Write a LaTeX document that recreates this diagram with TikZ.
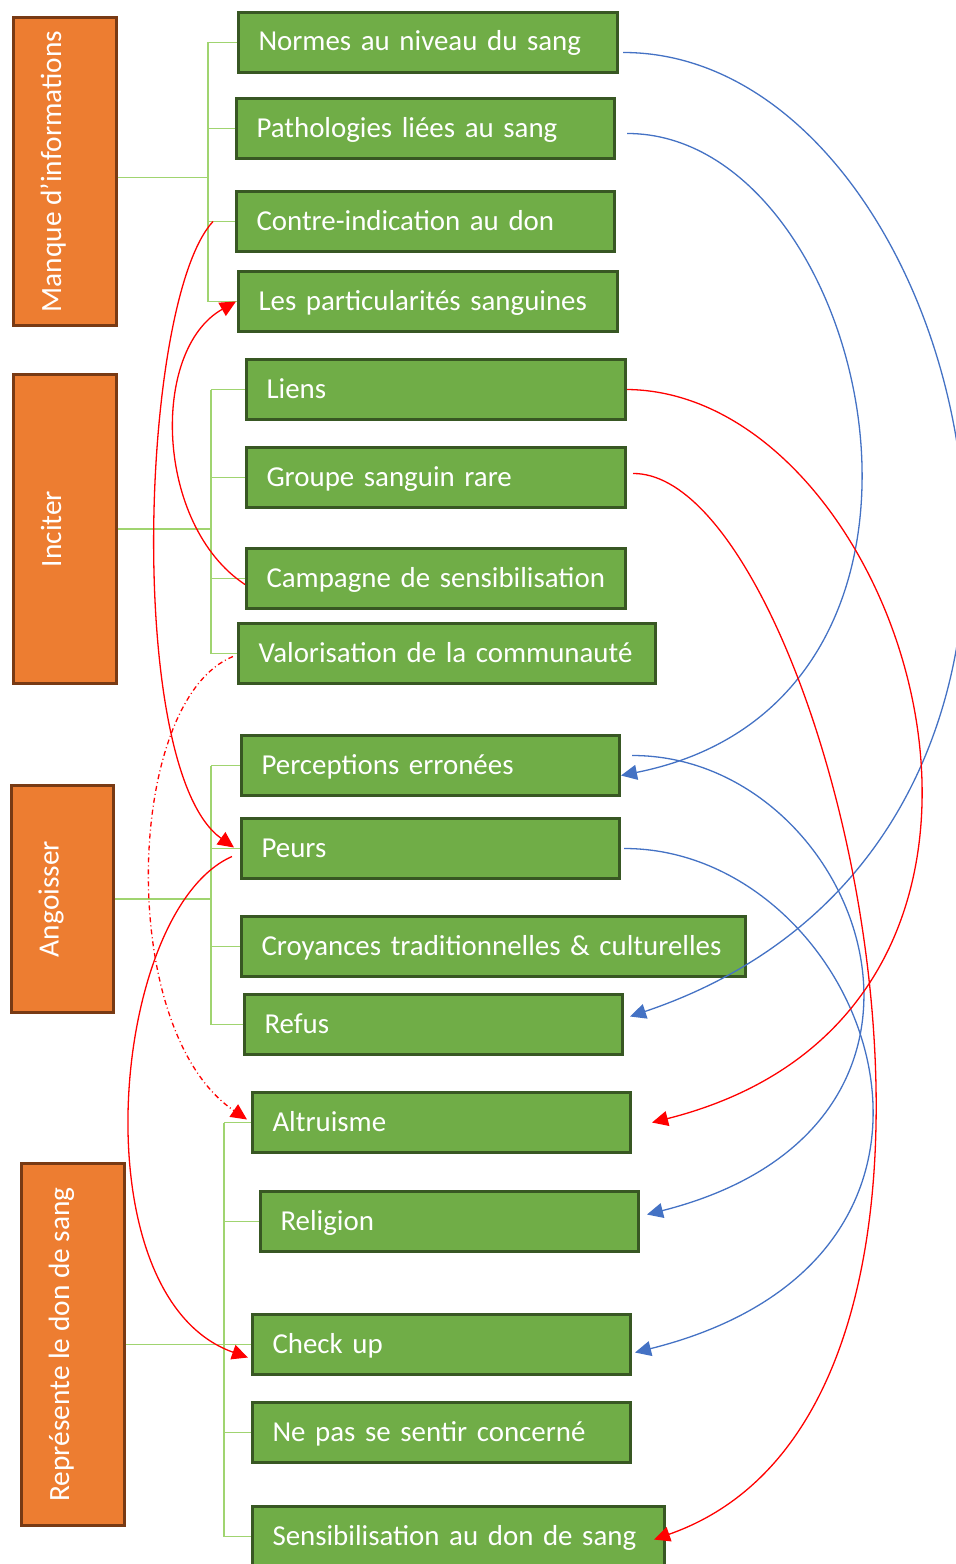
\documentclass[tikz,border=0pt]{standalone}
\usepackage{fontspec}
\setmainfont{Carlito}
\usetikzlibrary{arrows.meta}
\definecolor{leafgreen}{RGB}{112,173,71}
\definecolor{leafborder}{RGB}{56,87,35}
\definecolor{rootorange}{RGB}{237,125,49}
\definecolor{rootborder}{RGB}{120,58,20}
\definecolor{treegreen}{RGB}{160,212,112}
\definecolor{linkblue}{RGB}{68,114,196}
\definecolor{linkred}{RGB}{255,0,0}
\tikzset{
  rootbox/.style={rectangle, draw=rootborder, fill=rootorange, line width=2.5bp, text=white, font=\fontsize{29.5}{35}\selectfont, rotate=90, minimum height=103bp, text height=20bp, text depth=28bp},
  leafbox/.style={rectangle, draw=leafborder, fill=leafgreen, line width=3bp, text=white, font=\fontsize{29}{35}\selectfont, anchor=north west, minimum height=60bp, inner xsep=20bp, text width=#1, align=left, text height=23bp, text depth=6bp},
  leafbox/.default=338bp,
  treeline/.style={treegreen, line width=1.5bp},
  bluelink/.style={linkblue, line width=1.3bp, -{Triangle[length=16bp,width=15bp]}},
  redlink/.style={linkred, line width=1.3bp, -{Triangle[length=16bp,width=15bp]}},
}
\begin{document}
\begin{tikzpicture}[x=1bp, y=-1bp]
\useasboundingbox (0,0) rectangle (955,1564);

% themes
\node[rootbox, minimum width=308bp] (manque) at (65,171.5) {Manque d’informations};
\node[rootbox, minimum width=309bp] (inciter) at (65,529) {Inciter};
\node[rootbox, minimum width=227bp, minimum height=102bp] (angoisser) at (62.5,899) {Angoisser};
\node[rootbox, minimum width=362bp] (represente) at (73,1344.5) {Représente le don de sang};

% sub-themes
\node[leafbox=339bp] (normes) at (237,11) {Normes au niveau du sang};
\node[leafbox] (patho) at (235,97) {Pathologies liées au sang};
\node[leafbox] (contre) at (235,190) {Contre-indication au don};
\node[leafbox=339bp] (partic) at (237,270) {Les particularités sanguines};
\node[leafbox=339bp] (liens) at (245,358) {Liens};
\node[leafbox=339bp] (groupe) at (245,446) {Groupe sanguin rare};
\node[leafbox=339bp] (campagne) at (245,547) {Campagne de sensibilisation};
\node[leafbox=377bp] (valor) at (237,622) {Valorisation de la communauté};
\node[leafbox] (percep) at (240,734) {Perceptions erronées};
\node[leafbox] (peurs) at (240,817) {Peurs};
\node[leafbox=464bp] (croy) at (240,915) {Croyances traditionnelles \& culturelles};
\node[leafbox] (refus) at (243,993) {Refus};
\node[leafbox] (altru) at (251,1091) {Altruisme};
\node[leafbox] (relig) at (259,1190) {Religion};
\node[leafbox] (check) at (251,1313) {Check up};
\node[leafbox] (nepas) at (251,1401) {Ne pas se sentir concerné};
\node[leafbox=372bp] (sensib) at (251,1505) {Sensibilisation au don de sang};

% tree lines
\coordinate (s1) at (208,0);
\coordinate (s2) at (211,0);
\coordinate (s3) at (211,0);
\coordinate (s4) at (224,0);
\draw[treeline] ([yshift=-6bp]manque.south) coordinate (m1) -- (s1 |- m1);
\draw[treeline] (s1 |- normes.west) -- (s1 |- partic.west);
\foreach \n in {normes,patho,contre,partic}
  \draw[treeline] (s1 |- \n.west) -- (\n.west);
\draw[treeline] (inciter.south) -- (s2 |- inciter.south);
\draw[treeline] (s2 |- liens.west) -- (s2 |- valor.west);
\foreach \n in {liens,groupe,campagne,valor}
  \draw[treeline] (s2 |- \n.west) -- (\n.west);
\draw[treeline] (angoisser.south) -- (s3 |- angoisser.south);
\draw[treeline] (s3 |- percep.west) -- (s3 |- refus.west);
\foreach \n in {percep,peurs,croy,refus}
  \draw[treeline] (s3 |- \n.west) -- (\n.west);
\draw[treeline] (represente.south) -- (s4 |- represente.south);
\draw[treeline] (s4 |- altru.west) -- (s4 |- sensib.west);
\foreach \n in {altru,relig,check,nepas,sensib}
  \draw[treeline] (s4 |- \n.west) -- (\n.west);

% links on the right
\draw[bluelink] ([shift={(4bp,-10bp)}]normes.east) .. controls (970,52) and (1168,835) .. ([shift={(6bp,8bp)}]refus.east);
\draw[bluelink] ([shift={(11bp,-5bp)}]patho.east) .. controls (870,133) and (1000,700) .. ([yshift=-10bp]percep.east);
\draw[bluelink] ([shift={(11bp,10bp)}]percep.east) .. controls (860,755) and (1000,1125) .. ([shift={(7bp,7bp)}]relig.east);
\draw[bluelink] ([xshift=3bp]peurs.east) .. controls (865,848) and (1025,1255) .. ([shift={(3bp,-8bp)}]check.east);
\draw[redlink] (liens.east) .. controls (907,392) and (1102,1009) .. ([xshift=20bp]altru.east);
\draw[redlink] ([shift={(6bp,4bp)}]groupe.east) .. controls (825,472) and (1050,1401) .. ([shift={(-12bp,-3bp)}]sensib.east);

% links on the left
\draw[redlink] ([xshift=-22bp]contre.west) .. controls (140,300) and (125,770) .. ([shift={(-6bp,1bp)}]peurs.west);
\draw[redlink] ([yshift=-6bp]campagne.west) .. controls (155,525) and (150,350) .. ([xshift=-1bp]partic.west);
\draw[redlink] ([shift={(-8bp,-8bp)}]peurs.west) .. controls (110,910) and (77,1297) .. ([shift={(-3bp,-13bp)}]check.west);
\draw[redlink, dash pattern=on 5bp off 3bp on 1bp off 3bp] ([shift={(-4bp,-3bp)}]valor.west) .. controls (125,700) and (115,1030) .. ([shift={(-4bp,3bp)}]altru.west);
\end{tikzpicture}
\end{document}
